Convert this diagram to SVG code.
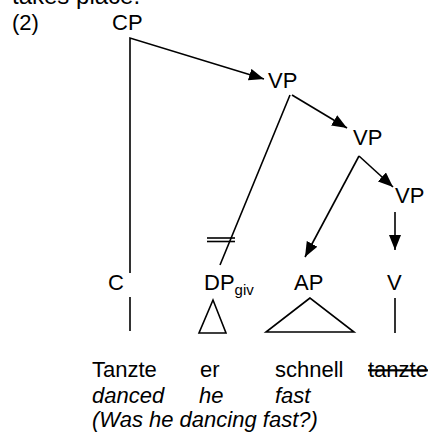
<svg xmlns="http://www.w3.org/2000/svg" width="443" height="436" viewBox="0 0 443 436">
  <style>
    text { font-family: "Liberation Sans", Arial, sans-serif; font-size: 22px; fill: #000; }
    .it { font-style: italic; }
    .sub { font-size: 15px; }
    .edge { stroke: #000; stroke-width: 1.6; fill: none; }
    .tri { stroke: #000; stroke-width: 1.6; fill: none; stroke-linejoin: miter; }
  </style>
  <defs>
    <marker id="arrow" markerUnits="userSpaceOnUse" markerWidth="16" markerHeight="12" refX="15" refY="6" orient="auto">
      <path d="M0,0 L15,6 L0,12 z" fill="#000"/>
    </marker>
  </defs>
  <rect width="443" height="436" fill="#fff"/>

  <!-- heading text, cut off at the top edge -->
  <text x="12" y="4" style="font-size:24px">takes place.</text>
  <text x="12" y="30">(2)</text>

  <g id="node-CP"><text x="112" y="30">CP</text></g>
  <g id="node-VP1"><text x="268" y="88">VP</text></g>
  <g id="node-VP2"><text x="353" y="145">VP</text></g>
  <g id="node-VP3"><text x="395" y="203">VP</text></g>

  <g id="node-C">
    <text x="108" y="290">C</text>
    <line class="edge" x1="130" y1="297" x2="130" y2="331"/>
    <text x="92" y="377">Tanzte</text>
    <text class="it" x="92" y="403">danced</text>
  </g>
  <g id="node-DP">
    <text x="204" y="290">DP<tspan class="sub" dy="5">giv</tspan></text>
    <polygon class="tri" points="213,300 199,333 226,333"/>
    <text x="200" y="377">er</text>
    <text class="it" x="199" y="403">he</text>
  </g>
  <g id="node-AP">
    <text x="294" y="290">AP</text>
    <polygon class="tri" points="310,298 266,332 354,332"/>
    <text x="275" y="377">schnell</text>
    <text class="it" x="275" y="403">fast</text>
  </g>
  <g id="node-V">
    <text x="387" y="290">V</text>
    <line class="edge" x1="395" y1="298" x2="395" y2="333"/>
    <text x="368" y="377" text-decoration="line-through">tanzte</text>
  </g>

  <text class="it" x="92" y="427">(Was he dancing fast?)</text>

  <g id="connectors">
    <!-- CP down to C, and CP to VP -->
    <polyline class="edge" points="130,273 130,38 264,79" marker-end="url(#arrow)"/>
    <!-- VP to DP, crossed out -->
    <line class="edge" x1="290" y1="95" x2="220" y2="265"/>
    <line class="edge" x1="207" y1="238" x2="235" y2="238"/>
    <line class="edge" x1="207" y1="241.5" x2="235" y2="241.5"/>
    <!-- VP to VP -->
    <line class="edge" x1="292" y1="95" x2="347" y2="128" marker-end="url(#arrow)"/>
    <!-- VP to AP -->
    <line class="edge" x1="359" y1="156" x2="305" y2="257" marker-end="url(#arrow)"/>
    <!-- VP to VP -->
    <line class="edge" x1="359" y1="156" x2="393" y2="187" marker-end="url(#arrow)"/>
    <!-- VP to V -->
    <line class="edge" x1="395" y1="212" x2="395" y2="250" marker-end="url(#arrow)"/>
  </g>
</svg>
